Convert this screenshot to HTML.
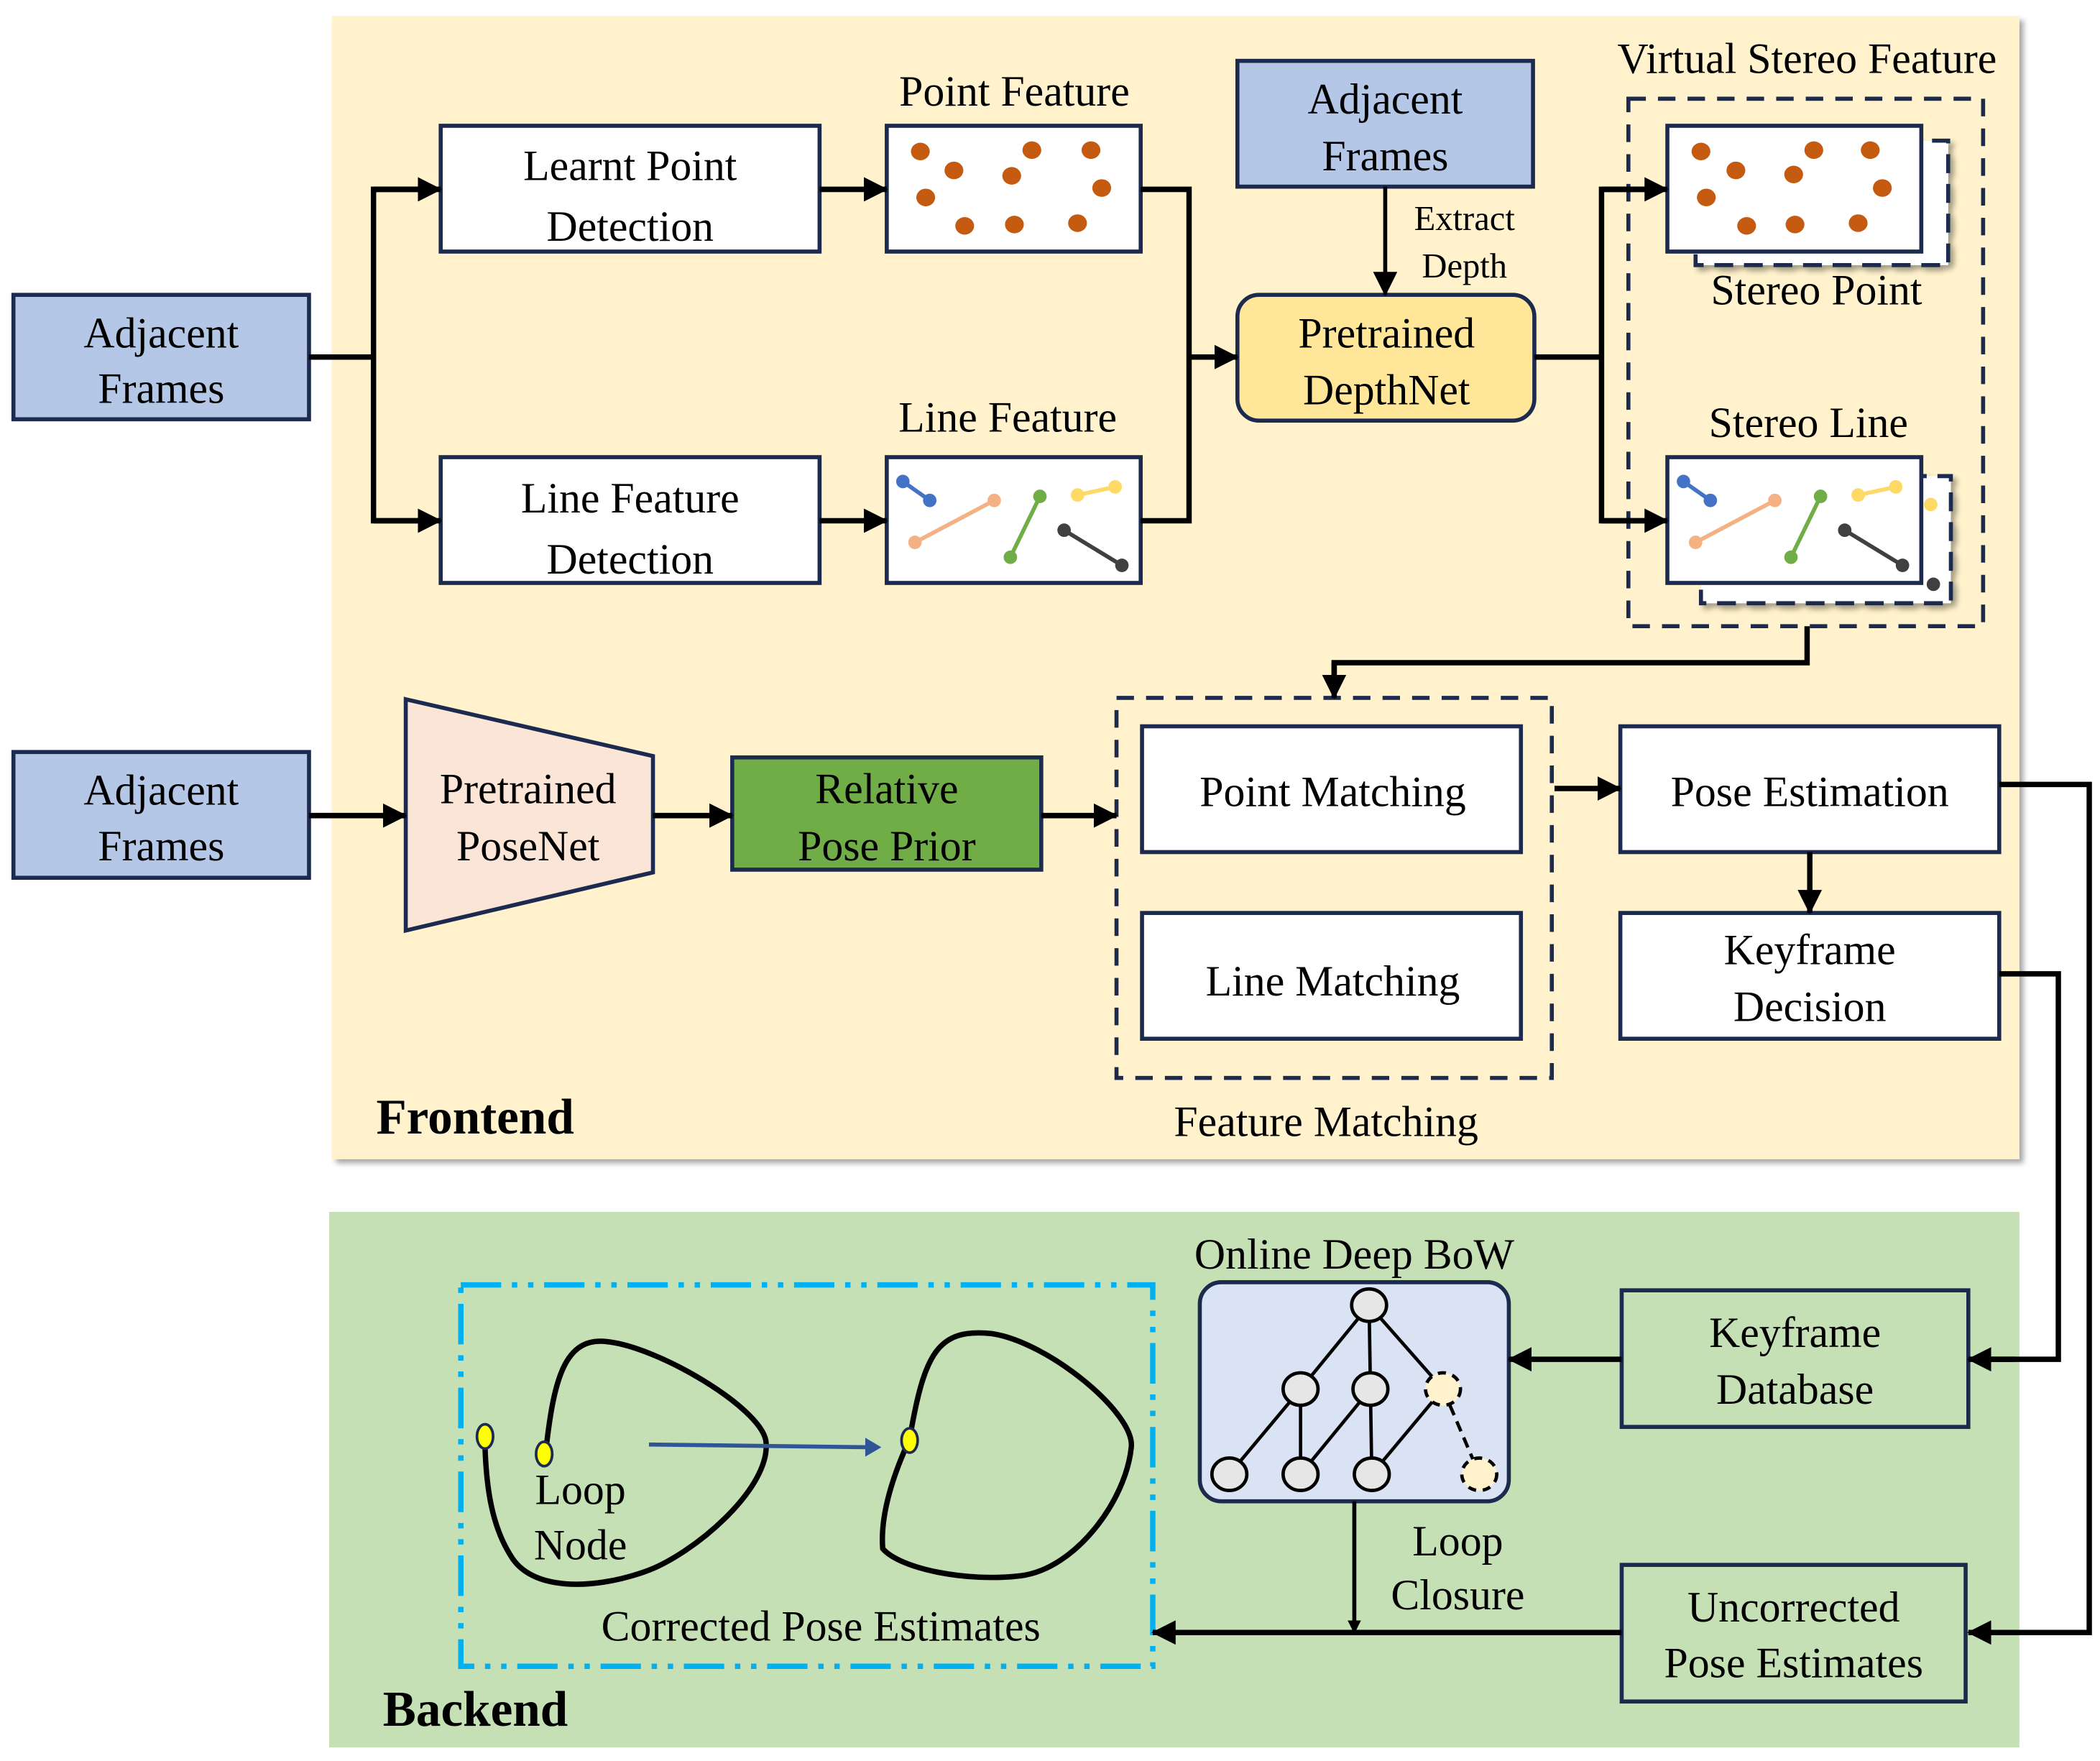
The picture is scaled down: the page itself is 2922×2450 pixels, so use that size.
<!DOCTYPE html>
<html><head><meta charset="utf-8"><style>
html,body{margin:0;padding:0;background:#fff;}
svg{display:block;}
</style></head><body>
<svg width="2922" height="2450" viewBox="0 0 1563 1302" preserveAspectRatio="none" xmlns="http://www.w3.org/2000/svg" font-family="Liberation Serif, DejaVu Serif, serif">
<defs>
<marker id="ah" markerWidth="10" markerHeight="10" refX="9" refY="5" orient="auto" markerUnits="userSpaceOnUse"><path d="M0,0 L10,5 L0,10 z" fill="#000"/></marker>
<marker id="ahb" markerWidth="18" markerHeight="18" refX="17" refY="9" orient="auto" markerUnits="userSpaceOnUse"><path d="M0,0 L18,9 L0,18 z" fill="#000"/></marker>
<filter id="sh" x="-5%" y="-5%" width="115%" height="115%"><feDropShadow dx="3" dy="3" stdDeviation="2" flood-color="#000" flood-opacity="0.35"/></filter>
</defs>
<rect width="1563" height="1302" fill="#fff"/>
<rect x="247" y="12" width="1256" height="845" fill="#FFF2CC" filter="url(#sh)"/>
<rect x="245" y="896" width="1258" height="396" fill="#C5E0B4"/>

<g stroke="#1B2A4E" stroke-width="3">
<rect x="10" y="218" width="220" height="92" fill="#B4C7E7"/>
<rect x="10" y="556" width="220" height="93" fill="#B4C7E7"/>
<rect x="921" y="45" width="220" height="93" fill="#B4C7E7"/>
<rect x="328" y="93" width="282" height="93" fill="#fff"/>
<rect x="328" y="338" width="282" height="93" fill="#fff"/>
<rect x="660" y="93" width="189" height="93" fill="#fff"/>
<rect x="660" y="338" width="189" height="93" fill="#fff"/>
<rect x="921" y="218" width="221" height="93" rx="16" fill="#FFE699"/>
<polygon points="302,517 486,559 486,645 302,688" fill="#FBE5D6"/>
<rect x="545" y="560" width="230" height="83" fill="#70AD47"/>
<rect x="850" y="537" width="282" height="93" fill="#fff"/>
<rect x="850" y="675" width="282" height="93" fill="#fff"/>
<rect x="1206" y="537" width="282" height="93" fill="#fff"/>
<rect x="1206" y="675" width="282" height="93" fill="#fff"/>
<rect x="1207" y="954" width="258" height="101" fill="none"/>
<rect x="1207" y="1157" width="256" height="101" fill="none"/>
<rect x="893" y="948" width="230" height="162" rx="16" fill="#DAE3F3"/>
</g>
<rect x="1212" y="73" width="264" height="390" fill="none" stroke="#1B2A4E" stroke-width="3" stroke-dasharray="13,9"/>
<rect x="831" y="516" width="324" height="281" fill="none" stroke="#1B2A4E" stroke-width="3" stroke-dasharray="13,9"/>
<rect x="343" y="950" width="515" height="282" fill="none" stroke="#00B0F0" stroke-width="4" stroke-dasharray="30,8,4,8,4,8"/>

<rect x="1262" y="104" width="188" height="92" fill="#fff" stroke="#1B2A4E" stroke-width="3" stroke-dasharray="14,8" filter="url(#sh)"/>
<rect x="1241" y="93" width="189" height="93" fill="#fff" stroke="#1B2A4E" stroke-width="3"/>
<rect x="1266" y="352" width="186" height="94" fill="#fff" stroke="#1B2A4E" stroke-width="3" stroke-dasharray="14,8" filter="url(#sh)"/>
<circle cx="1437" cy="373" r="5" fill="#FFD966"/><circle cx="1439" cy="432" r="5" fill="#404040"/>
<rect x="1241" y="338" width="189" height="93" fill="#fff" stroke="#1B2A4E" stroke-width="3"/>

<g fill="#C55A11">
<ellipse cx="685" cy="112" rx="7" ry="6.5"/><ellipse cx="710" cy="126" rx="7" ry="6.5"/><ellipse cx="689" cy="146" rx="7" ry="6.5"/>
<ellipse cx="718" cy="167" rx="7" ry="6.5"/><ellipse cx="753" cy="130" rx="7" ry="6.5"/><ellipse cx="768" cy="111" rx="7" ry="6.5"/>
<ellipse cx="812" cy="111" rx="7" ry="6.5"/><ellipse cx="820" cy="139" rx="7" ry="6.5"/><ellipse cx="755" cy="166" rx="7" ry="6.5"/><ellipse cx="802" cy="165" rx="7" ry="6.5"/>
<ellipse cx="1266" cy="112" rx="7" ry="6.5"/><ellipse cx="1292" cy="126" rx="7" ry="6.5"/><ellipse cx="1270" cy="146" rx="7" ry="6.5"/>
<ellipse cx="1300" cy="167" rx="7" ry="6.5"/><ellipse cx="1335" cy="129" rx="7" ry="6.5"/><ellipse cx="1350" cy="111" rx="7" ry="6.5"/>
<ellipse cx="1392" cy="111" rx="7" ry="6.5"/><ellipse cx="1401" cy="139" rx="7" ry="6.5"/><ellipse cx="1336" cy="166" rx="7" ry="6.5"/><ellipse cx="1383" cy="165" rx="7" ry="6.5"/>
</g>
<g stroke-width="3">
<g>
<line x1="672" y1="356" x2="692" y2="370" stroke="#4472C4"/><circle cx="672" cy="356" r="5" fill="#4472C4"/><circle cx="692" cy="370" r="5" fill="#4472C4"/>
<line x1="681" y1="401" x2="740" y2="370" stroke="#F4B183"/><circle cx="681" cy="401" r="5" fill="#F4B183"/><circle cx="740" cy="370" r="5" fill="#F4B183"/>
<line x1="752" y1="412" x2="774" y2="367" stroke="#70AD47"/><circle cx="752" cy="412" r="5" fill="#70AD47"/><circle cx="774" cy="367" r="5" fill="#70AD47"/>
<line x1="802" y1="366" x2="830" y2="360" stroke="#FFD966"/><circle cx="802" cy="366" r="5" fill="#FFD966"/><circle cx="830" cy="360" r="5" fill="#FFD966"/>
<line x1="792" y1="392" x2="835" y2="418" stroke="#404040"/><circle cx="792" cy="392" r="5" fill="#404040"/><circle cx="835" cy="418" r="5" fill="#404040"/>
</g>
<g transform="translate(581,0)">
<line x1="672" y1="356" x2="692" y2="370" stroke="#4472C4"/><circle cx="672" cy="356" r="5" fill="#4472C4"/><circle cx="692" cy="370" r="5" fill="#4472C4"/>
<line x1="681" y1="401" x2="740" y2="370" stroke="#F4B183"/><circle cx="681" cy="401" r="5" fill="#F4B183"/><circle cx="740" cy="370" r="5" fill="#F4B183"/>
<line x1="752" y1="412" x2="774" y2="367" stroke="#70AD47"/><circle cx="752" cy="412" r="5" fill="#70AD47"/><circle cx="774" cy="367" r="5" fill="#70AD47"/>
<line x1="802" y1="366" x2="830" y2="360" stroke="#FFD966"/><circle cx="802" cy="366" r="5" fill="#FFD966"/><circle cx="830" cy="360" r="5" fill="#FFD966"/>
<line x1="792" y1="392" x2="835" y2="418" stroke="#404040"/><circle cx="792" cy="392" r="5" fill="#404040"/><circle cx="835" cy="418" r="5" fill="#404040"/>
</g>
</g>

<g stroke="#000" stroke-width="4" fill="none">
<polyline points="230,264 278,264"/>
<polyline points="318,140 278,140 278,385 318,385" />
<line x1="278" y1="140" x2="328" y2="140" marker-end="url(#ahb)"/>
<line x1="278" y1="385" x2="328" y2="385" marker-end="url(#ahb)"/>
<line x1="610" y1="140" x2="660" y2="140" marker-end="url(#ahb)"/>
<line x1="610" y1="385" x2="660" y2="385" marker-end="url(#ahb)"/>
<polyline points="849,140 885,140 885,385 849,385"/>
<line x1="885" y1="264" x2="921" y2="264" marker-end="url(#ahb)"/>
<line x1="1142" y1="264" x2="1192" y2="264"/>
<polyline points="1231,140 1192,140 1192,385 1231,385"/>
<line x1="1192" y1="140" x2="1241" y2="140" marker-end="url(#ahb)"/>
<line x1="1192" y1="385" x2="1241" y2="385" marker-end="url(#ahb)"/>
<polyline points="1345,463 1345,490 993,490 993,500"/>
<line x1="993" y1="490" x2="993" y2="516" marker-end="url(#ahb)"/>
<line x1="230" y1="603" x2="302" y2="603" marker-end="url(#ahb)"/>
<line x1="486" y1="603" x2="545" y2="603" marker-end="url(#ahb)"/>
<line x1="775" y1="603" x2="831" y2="603" marker-end="url(#ahb)"/>
<line x1="1157" y1="583" x2="1206" y2="583" marker-end="url(#ahb)"/>
<line x1="1347" y1="630" x2="1347" y2="675" marker-end="url(#ahb)"/>
<polyline points="1488,580 1555,580 1555,1207 1470,1207"/>
<line x1="1500" y1="1207" x2="1465" y2="1207" marker-end="url(#ahb)"/>
<polyline points="1488,720 1532,720 1532,1005 1470,1005"/>
<line x1="1500" y1="1005" x2="1465" y2="1005" marker-end="url(#ahb)"/>
<line x1="1207" y1="1005" x2="1123" y2="1005" marker-end="url(#ahb)"/>
<line x1="1207" y1="1207" x2="858" y2="1207" marker-end="url(#ahb)"/>
</g>
<g stroke="#000" stroke-width="3" fill="none">
<line x1="1031" y1="138" x2="1031" y2="218" marker-end="url(#ahb)"/>
<line x1="1008" y1="1110" x2="1008" y2="1207" marker-end="url(#ah)"/>
</g>

<g stroke="#000" stroke-width="2.5">
<line x1="1019" y1="965" x2="968" y2="1027"/><line x1="1019" y1="965" x2="1020" y2="1027"/><line x1="1019" y1="965" x2="1074" y2="1027"/>
<line x1="968" y1="1027" x2="915" y2="1090"/><line x1="968" y1="1027" x2="968" y2="1090"/>
<line x1="1020" y1="1027" x2="968" y2="1090"/><line x1="1020" y1="1027" x2="1021" y2="1090"/>
<line x1="1074" y1="1027" x2="1021" y2="1090"/>
<line x1="1074" y1="1027" x2="1101" y2="1090" stroke-dasharray="8,5"/>
<g fill="#E7E6E6">
<ellipse cx="1019" cy="965" rx="13" ry="12"/><ellipse cx="968" cy="1027" rx="13" ry="12"/><ellipse cx="1020" cy="1027" rx="13" ry="12"/>
<ellipse cx="915" cy="1090" rx="13" ry="12"/><ellipse cx="968" cy="1090" rx="13" ry="12"/><ellipse cx="1021" cy="1090" rx="13" ry="12"/>
</g>
<g fill="#FFF2CC" stroke-dasharray="6,5">
<ellipse cx="1074" cy="1027" rx="13" ry="12"/><ellipse cx="1101" cy="1090" rx="13" ry="12"/>
</g>
</g>

<g fill="none" stroke="#000" stroke-width="4">
<path d="M406,1075 C412,1020 420,988 452,992 C490,996 565,1040 570,1065 C575,1100 515,1150 480,1162 C440,1176 395,1176 380,1150 C366,1128 362,1100 361,1070"/>
<path d="M677,1064 C688,1000 698,982 738,986 C780,992 845,1045 842,1070 C838,1110 800,1160 760,1165 C720,1170 670,1160 657,1145 C655,1120 665,1090 677,1064"/>
</g>
<line x1="483" y1="1068" x2="645" y2="1070" stroke="#2F5597" stroke-width="3"/>
<polygon points="656,1070 644,1063 644,1077" fill="#2F5597"/>
<g fill="#FFFF00" stroke="#1B2A4E" stroke-width="2">
<ellipse cx="361" cy="1062" rx="6" ry="9"/><ellipse cx="405" cy="1075" rx="6" ry="9"/><ellipse cx="677" cy="1065" rx="6" ry="9"/>
</g>

<g font-size="32" text-anchor="middle" fill="#000" font-family="Liberation Serif, DejaVu Serif, serif">
<text x="120" y="257">Adjacent</text><text x="120" y="298">Frames</text>
<text x="120" y="595">Adjacent</text><text x="120" y="636">Frames</text>
<text x="1031" y="84">Adjacent</text><text x="1031" y="126">Frames</text>
<text x="469" y="133">Learnt Point</text><text x="469" y="178">Detection</text>
<text x="469" y="379">Line Feature</text><text x="469" y="424">Detection</text>
<text x="755" y="78">Point Feature</text>
<text x="750" y="319">Line Feature</text>
<text x="1032" y="257">Pretrained</text><text x="1032" y="299">DepthNet</text>
<text x="1345" y="54">Virtual Stereo Feature</text>
<text x="1352" y="225">Stereo Point</text>
<text x="1346" y="323">Stereo Line</text>
<text x="393" y="594">Pretrained</text><text x="393" y="636">PoseNet</text>
<text x="660" y="594">Relative</text><text x="660" y="636">Pose Prior</text>
<text x="992" y="596">Point Matching</text>
<text x="992" y="736">Line Matching</text>
<text x="1347" y="596">Pose Estimation</text>
<text x="1347" y="713">Keyframe</text><text x="1347" y="755">Decision</text>
<text x="987" y="840">Feature Matching</text>
<text x="1008" y="938">Online Deep BoW</text>
<text x="1336" y="996">Keyframe</text><text x="1336" y="1038">Database</text>
<text x="1335" y="1199">Uncorrected</text><text x="1335" y="1240">Pose Estimates</text>
<text x="1085" y="1150">Loop</text><text x="1085" y="1190">Closure</text>
<text x="432" y="1112">Loop</text><text x="432" y="1153">Node</text>
<text x="611" y="1213">Corrected Pose Estimates</text>
</g>
<g font-size="26" text-anchor="middle" fill="#000" font-family="Liberation Serif, DejaVu Serif, serif">
<text x="1090" y="170">Extract</text><text x="1090" y="205">Depth</text>
</g>
<text x="280" y="838" font-size="37" font-weight="bold" fill="#000" font-family="Liberation Serif, DejaVu Serif, serif">Frontend</text>
<text x="285" y="1276" font-size="37" font-weight="bold" fill="#000" font-family="Liberation Serif, DejaVu Serif, serif">Backend</text>
</svg>
</body></html>
